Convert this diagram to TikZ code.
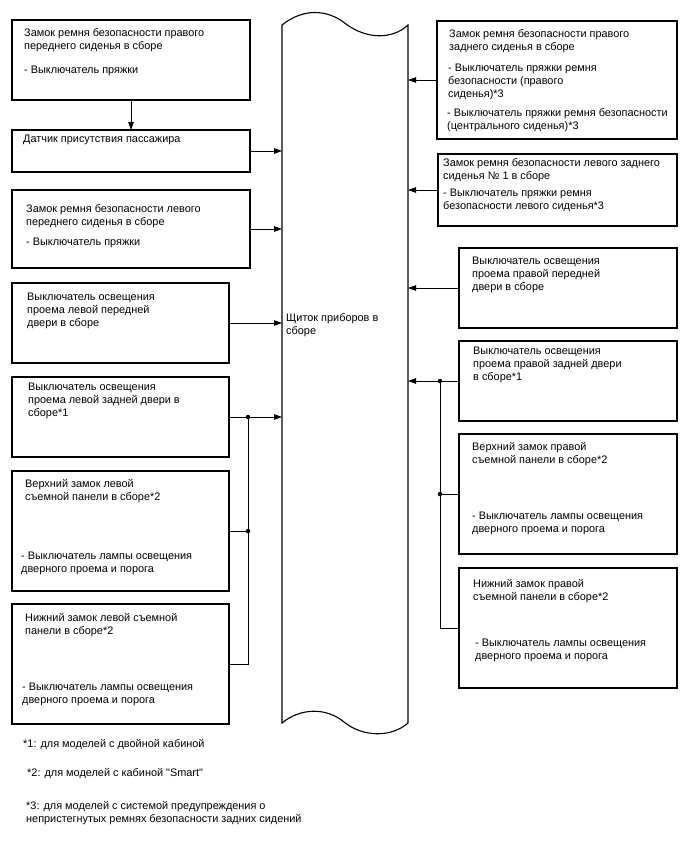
\documentclass[tikz,border=0pt]{standalone}
\usepackage{fontspec}
\setmainfont{Liberation Sans}
\newfontfamily\lsans{Liberation Sans}
\usetikzlibrary{arrows.meta}
\begin{document}
\begin{tikzpicture}[x=1pt,y=-1pt,
  box/.style={draw, line width=1.1pt, inner sep=0pt, outer sep=0pt, anchor=north west},
  txt/.style={anchor=north west, inner sep=0pt, align=left, font=\lsans\fontsize{10.9}{13}\selectfont},
  arr/.style={line width=0.8pt, -{Triangle[length=8pt,width=5.5pt]}},
  wire/.style={line width=0.8pt},
  dot/.style={circle, fill, inner sep=0pt, minimum size=4.5pt}]
\useasboundingbox (0,0) rectangle (688,852);

% panel
\node[inner sep=0pt, outer sep=0pt, anchor=north west, minimum width=126pt, minimum height=698pt] (panel) at (282,25) {};
\draw[line width=1.1pt] (282,25) .. controls (302,9) and (326,8) .. (346,24)
  .. controls (366,39) and (392,40) .. (408,25) -- (408,723)
  .. controls (392,737) and (364,738) .. (344,722)
  .. controls (326,707) and (300,708) .. (282,723) -- cycle;
\node[txt] (ptext) at (286,313) {Щиток приборов в\\сборе};

% left boxes
\node[box, minimum width=238pt, minimum height=80pt] (L1) at (12,20) {};
\node[txt] (L1a) at (24,28) {Замок ремня безопасности правого\\переднего сиденья в сборе};
\node[txt] (L1b) at (24,66) {- Выключатель пряжки};

\node[box, minimum width=238pt, minimum height=42pt] (L2) at (12,130) {};
\node[txt] (L2a) at (23,135) {Датчик присутствия пассажира};

\node[box, minimum width=238pt, minimum height=78pt] (L3) at (12,190) {};
\node[txt] (L3a) at (26,204) {Замок ремня безопасности левого\\переднего сиденья в сборе};
\node[txt] (L3b) at (26,238) {- Выключатель пряжки};

\node[box, minimum width=217pt, minimum height=80pt] (L4) at (12,283) {};
\node[txt] (L4a) at (27,293) {Выключатель освещения\\проема левой передней\\двери в сборе};

\node[box, minimum width=217pt, minimum height=80pt] (L5) at (12,377) {};
\node[txt] (L5a) at (28,383) {Выключатель освещения\\проема левой задней двери в\\сборе*1};

\node[box, minimum width=217pt, minimum height=120pt] (L6) at (12,471) {};
\node[txt] (L6a) at (25,479) {Верхний замок левой\\съемной панели в сборе*2};
\node[txt] (L6b) at (21,552) {- Выключатель лампы освещения\\дверного проема и порога};

\node[box, minimum width=217pt, minimum height=120pt] (L7) at (12,604) {};
\node[txt] (L7a) at (25,613) {Нижний замок левой съемной\\панели в сборе*2};
\node[txt] (L7b) at (22,683) {- Выключатель лампы освещения\\дверного проема и порога};

% right boxes
\node[box, minimum width=240pt, minimum height=118pt] (R1) at (437,21) {};
\node[txt] (R1a) at (449,29) {Замок ремня безопасности правого\\заднего сиденья в сборе};
\node[txt] (R1b) at (448,64) {- Выключатель пряжки ремня\\безопасности (правого\\сиденья)*3};
\node[txt] (R1c) at (447,108) {- Выключатель пряжки ремня безопасности\\(центрального сиденья)*3};

\node[box, minimum width=239pt, minimum height=72pt] (R2) at (438,154) {};
\node[txt] (R2a) at (443,158) {Замок ремня безопасности левого заднего\\сиденья № 1 в сборе};
\node[txt] (R2b) at (443,189) {- Выключатель пряжки ремня\\безопасности левого сиденья*3};

\node[box, minimum width=218pt, minimum height=80pt] (R3) at (459,248) {};
\node[txt] (R3a) at (472,257) {Выключатель освещения\\проема правой передней\\двери в сборе};

\node[box, minimum width=218pt, minimum height=80pt] (R4) at (459,341) {};
\node[txt] (R4a) at (473,347) {Выключатель освещения\\проема правой задней двери\\в сборе*1};

\node[box, minimum width=218pt, minimum height=120pt] (R5) at (459,434) {};
\node[txt] (R5a) at (472,442) {Верхний замок правой\\съемной панели в сборе*2};
\node[txt] (R5b) at (472,512) {- Выключатель лампы освещения\\дверного проема и порога};

\node[box, minimum width=218pt, minimum height=120pt] (R6) at (459,568) {};
\node[txt] (R6a) at (473,579) {Нижний замок правой\\съемной панели в сборе*2};
\node[txt] (R6b) at (475,639) {- Выключатель лампы освещения\\дверного проема и порога};

% footnotes
\node[txt] (f1) at (23,739) {*1: для моделей с двойной кабиной};
\node[txt] (f2) at (27,768) {*2: для моделей с кабиной "Smart"};
\node[txt] (f3) at (26,801) {*3: для моделей с системой предупреждения о\\непристегнутых ремнях безопасности задних сидений};

% connectors
\coordinate (busL) at (248,0);
\coordinate (busR) at (440,0);
\draw[arr] (L1.south) -- (L2.north);
\draw[arr] (L2.east) -- (L2.east -| panel.west);
\draw[arr] (L3.east) -- (L3.east -| panel.west);
\draw[arr] (L4.east) -- (L4.east -| panel.west);
\draw[arr] (L5.east) -- (L5.east -| panel.west);
\draw[wire] (L6.east) -- (L6.east -| busL);
\draw[wire] (L7.east) -- (L7.east -| busL) -- (L5.east -| busL);
\node[dot] (dL1) at (L5.east -| busL) {};
\node[dot] (dL2) at (L6.east -| busL) {};

\draw[arr] (R1.west) -- (R1.west -| panel.east);
\draw[arr] (R2.west) -- (R2.west -| panel.east);
\draw[arr] (R3.west) -- (R3.west -| panel.east);
\draw[arr] (R4.west) -- (R4.west -| panel.east);
\draw[wire] (R5.west) -- (R5.west -| busR);
\draw[wire] (R6.west) -- (R6.west -| busR) -- (R4.west -| busR);
\node[dot] (dR1) at (R4.west -| busR) {};
\node[dot] (dR2) at (R5.west -| busR) {};
\end{tikzpicture}
\end{document}
